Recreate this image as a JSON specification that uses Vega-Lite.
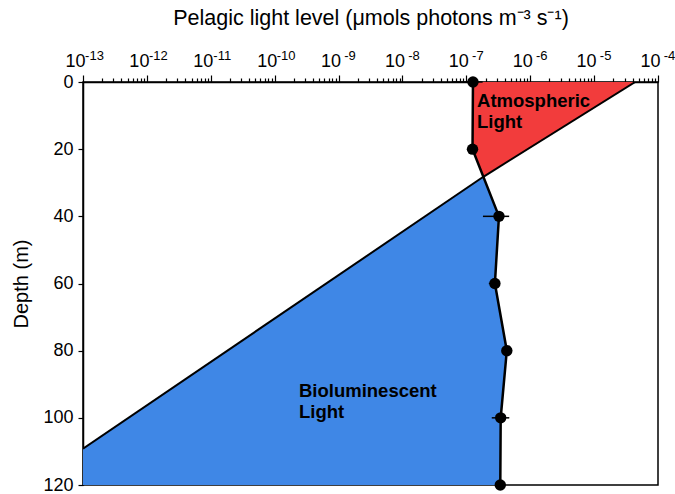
{
  "$schema": "https://vega.github.io/schema/vega-lite/v6.json",
  "autosize": {"type": "none"},
  "width": 575,
  "height": 403,
  "padding": {"left": 83, "top": 82, "right": 17, "bottom": 9},
  "background": "white",
  "config": {
    "font": "Liberation Sans",
    "view": {"stroke": "black", "strokeWidth": 1.5},
    "axis": {"domainColor": "black", "tickColor": "black", "labelColor": "black", "titleColor": "black", "grid": false, "domainWidth": 1.5, "tickWidth": 1.2, "labelFont": "Liberation Sans", "titleFont": "Liberation Sans", "titleFontWeight": "normal"}
  },
  "resolve": {"axis": {"x": "independent"}},
  "datasets": {
    "atm": [
      {"depth": 0, "left": 1.27e-7, "right": 4.4e-5},
      {"depth": 20, "left": 1.25e-7, "right": 9.1e-7},
      {"depth": 28.3, "left": 1.82e-7, "right": 1.82e-7}
    ],
    "bio": [
      {"depth": 28.3, "left": 1.82e-7, "right": 1.82e-7},
      {"depth": 40, "left": 2.24e-8, "right": 3.24e-7},
      {"depth": 60, "left": 6.3e-10, "right": 2.8e-7},
      {"depth": 80, "left": 1.82e-11, "right": 4.3e-7},
      {"depth": 100, "left": 5.1e-13, "right": 3.45e-7},
      {"depth": 109.2, "left": 1e-13, "right": 3.42e-7},
      {"depth": 120, "left": 1e-13, "right": 3.4e-7}
    ],
    "atmEdge": [
      {"depth": 0, "light": 4.4e-5},
      {"depth": 28.3, "light": 1.82e-7}
    ],
    "bioEdge": [
      {"depth": 28.3, "light": 1.82e-7},
      {"depth": 109.2, "light": 1e-13}
    ],
    "obs": [
      {"depth": 0, "light": 1.27e-7, "lo": 6.2e-8, "hi": 1.8e-7},
      {"depth": 20, "light": 1.25e-7, "lo": 1.02e-7, "hi": 1.47e-7},
      {"depth": 40, "light": 3.24e-7, "lo": 1.82e-7, "hi": 4.68e-7},
      {"depth": 60, "light": 2.8e-7, "lo": 2.25e-7, "hi": 3.3e-7},
      {"depth": 80, "light": 4.3e-7, "lo": 3.6e-7, "hi": 5.2e-7},
      {"depth": 100, "light": 3.45e-7, "lo": 2.5e-7, "hi": 4.7e-7},
      {"depth": 120, "light": 3.4e-7, "lo": 3.4e-7, "hi": 3.4e-7}
    ],
    "labels": [
      {"depth": 7.44, "light": 1.47e-7, "text": "Atmospheric\nLight"},
      {"depth": 93.75, "light": 2.4e-10, "text": "Bioluminescent\nLight"}
    ]
  },
  "layer": [
    {
      "data": {"name": "atm"},
      "mark": {"type": "area", "orient": "horizontal", "color": "#f23c3c", "clip": true},
      "encoding": {
        "y": {"field": "depth", "type": "quantitative", "scale": {"domain": [0, 120], "reverse": true, "nice": false},
          "axis": {"values": [0, 20, 40, 60, 80, 100, 120], "title": "Depth (m)", "titleFontSize": 20, "labelFontSize": 18, "tickSize": 5, "labelPadding": 5, "titlePadding": 11}},
        "x": {"field": "left", "type": "quantitative", "scale": {"type": "log", "domain": [1e-13, 1e-4], "nice": false},
          "axis": {
            "orient": "top",
            "title": "Pelagic light level (μmols photons m⁻³ s⁻¹)",
            "titleFontSize": 21.5,
            "titlePadding": 23,
            "labelFontSize": 18,
            "labelOverlap": false,
            "labelFlush": false,
            "labelBound": false,
            "labelPadding": 5,
            "labelOffset": -8,
            "values": [1e-13,2e-13,3e-13,4e-13,5e-13,6e-13,7e-13,8e-13,9e-13,
                       1e-12,2e-12,3e-12,4e-12,5e-12,6e-12,7e-12,8e-12,9e-12,
                       1e-11,2e-11,3e-11,4e-11,5e-11,6e-11,7e-11,8e-11,9e-11,
                       1e-10,2e-10,3e-10,4e-10,5e-10,6e-10,7e-10,8e-10,9e-10,
                       1e-9,2e-9,3e-9,4e-9,5e-9,6e-9,7e-9,8e-9,9e-9,
                       1e-8,2e-8,3e-8,4e-8,5e-8,6e-8,7e-8,8e-8,9e-8,
                       1e-7,2e-7,3e-7,4e-7,5e-7,6e-7,7e-7,8e-7,9e-7,
                       1e-6,2e-6,3e-6,4e-6,5e-6,6e-6,7e-6,8e-6,9e-6,
                       1e-5,2e-5,3e-5,4e-5,5e-5,6e-5,7e-5,8e-5,9e-5,1e-4],
            "labelExpr": "abs(log(datum.value)/LN10 - round(log(datum.value)/LN10)) < 0.001 ? '10' : ''",
            "tickSize": {"condition": {"test": "abs(log(datum.value)/LN10 - round(log(datum.value)/LN10)) < 0.001", "value": 7}, "value": 4}
          }},
        "x2": {"field": "right"}
      }
    },
    {
      "data": {"name": "bio"},
      "mark": {"type": "area", "orient": "horizontal", "color": "#3f87e6", "clip": true},
      "encoding": {
        "y": {"field": "depth", "type": "quantitative"},
        "x": {"field": "left", "type": "quantitative",
          "axis": {
            "orient": "top",
            "title": null,
            "domain": false,
            "ticks": false,
            "tickSize": 0,
            "labelFontSize": 13,
            "labelOverlap": false,
            "labelFlush": false,
            "labelBound": false,
            "labelPadding": 20,
            "labelOffset": 11,
            "values": [1e-13,1e-12,1e-11,1e-10,1e-9,1e-8,1e-7,1e-6,1e-5,1e-4],
            "labelExpr": "'' + round(log(datum.value)/LN10)"
          }},
        "x2": {"field": "right"}
      }
    },
    {
      "data": {"name": "atmEdge"},
      "mark": {"type": "line", "color": "black", "strokeWidth": 2, "clip": true},
      "encoding": {
        "y": {"field": "depth", "type": "quantitative"},
        "x": {"field": "light", "type": "quantitative", "axis": null},
        "order": {"field": "depth"}
      }
    },
    {
      "data": {"name": "bioEdge"},
      "mark": {"type": "line", "color": "black", "strokeWidth": 2, "clip": true},
      "encoding": {
        "y": {"field": "depth", "type": "quantitative"},
        "x": {"field": "light", "type": "quantitative", "axis": null},
        "order": {"field": "depth"}
      }
    },
    {
      "data": {"name": "obs"},
      "mark": {"type": "rule", "color": "black", "strokeWidth": 1.5},
      "encoding": {
        "y": {"field": "depth", "type": "quantitative"},
        "x": {"field": "lo", "type": "quantitative", "axis": null},
        "x2": {"field": "hi"}
      }
    },
    {
      "data": {"name": "obs"},
      "mark": {"type": "line", "color": "black", "strokeWidth": 2.5},
      "encoding": {
        "y": {"field": "depth", "type": "quantitative"},
        "x": {"field": "light", "type": "quantitative", "axis": null},
        "order": {"field": "depth"}
      }
    },
    {
      "data": {"name": "obs"},
      "mark": {"type": "point", "filled": true, "color": "black", "opacity": 1, "size": 130},
      "encoding": {
        "y": {"field": "depth", "type": "quantitative"},
        "x": {"field": "light", "type": "quantitative", "axis": null}
      }
    },
    {
      "data": {"name": "labels"},
      "mark": {"type": "text", "align": "left", "baseline": "alphabetic", "fontSize": 18.5, "fontWeight": "bold", "color": "black", "lineBreak": "\n", "lineHeight": 21},
      "encoding": {
        "y": {"field": "depth", "type": "quantitative"},
        "x": {"field": "light", "type": "quantitative", "axis": null},
        "text": {"field": "text"}
      }
    }
  ]
}
